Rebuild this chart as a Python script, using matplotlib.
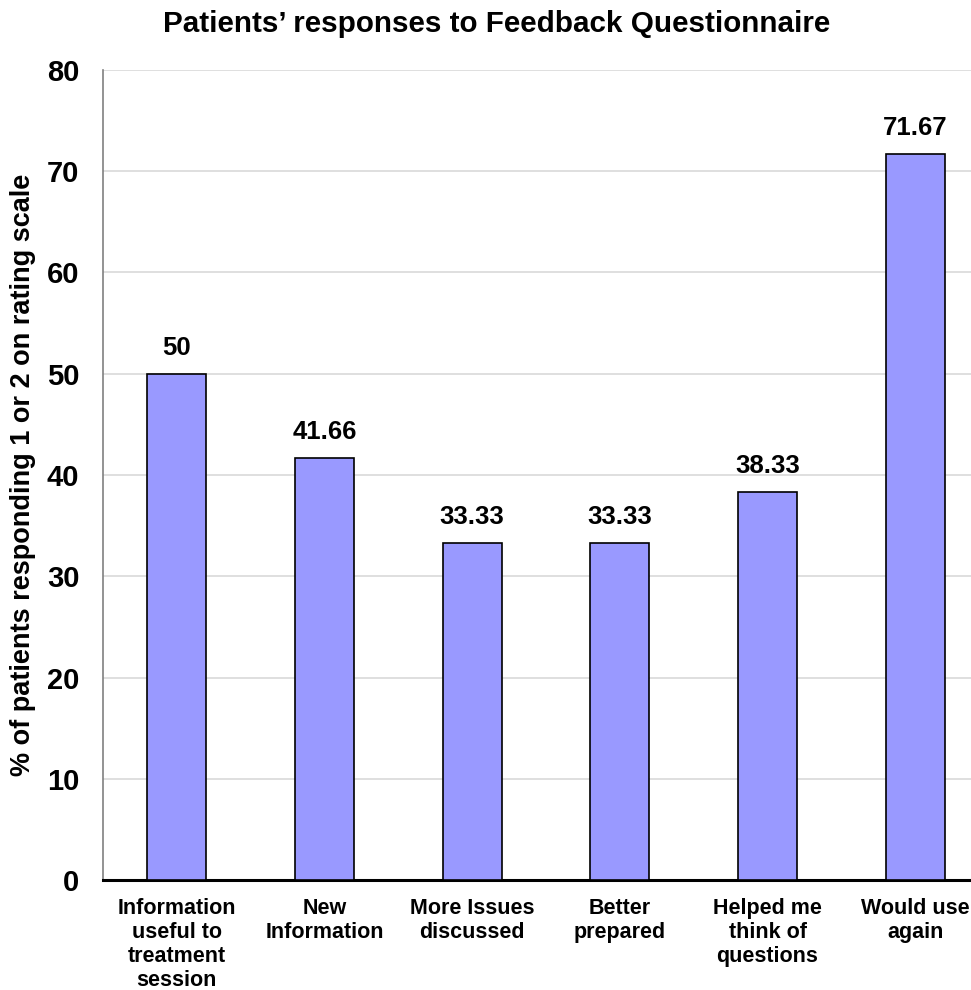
import matplotlib
matplotlib.use("Agg")
import matplotlib.pyplot as plt

# ── Data ──────────────────────────────────────────────────────────────────────
categories = [
    "Information\nuseful to\ntreatment\nsession",
    "New\nInformation",
    "More Issues\ndiscussed",
    "Better\nprepared",
    "Helped me\nthink of\nquestions",
    "Would use\nagain",
]
values = [50, 41.66, 33.33, 33.33, 38.33, 71.67]
value_labels = ["50", "41.66", "33.33", "33.33", "38.33", "71.67"]
yticks = [0, 10, 20, 30, 40, 50, 60, 70, 80]

plt.rcParams["font.family"] = ["Liberation Sans", "DejaVu Sans"]

fig = plt.figure(figsize=(9.71, 9.9), dpi=100)
ax = fig.add_axes([0.1061, 0.1111, 0.9125, 0.8182])

x = list(range(len(categories)))
ax.bar(x, values, width=0.4, color="#9999FF", edgecolor="black", linewidth=1.2, zorder=3)

for xi, v, lab in zip(x, values, value_labels):
    ax.annotate(lab, (xi, v), xytext=(0, 10), textcoords="offset points",
                ha="center", va="bottom", fontsize=18.5, fontweight="bold")

ax.set_xlim(-0.5, len(categories) - 0.5)
ax.set_ylim(0, 80)
ax.set_yticks(yticks)
ax.set_yticklabels([str(t) for t in yticks], fontsize=21, fontweight="bold")
ax.set_xticks(x)
ax.set_xticklabels(categories, fontsize=15.5, fontweight="bold", linespacing=1.18)
ax.tick_params(axis="x", length=0, pad=13)
ax.tick_params(axis="y", length=0, pad=17)

ax.grid(axis="y", color="#d9d9d9", linewidth=1.2, zorder=0)
ax.set_axisbelow(True)
for s in ["top", "right"]:
    ax.spines[s].set_visible(False)
ax.spines["left"].set_color("#808080")
ax.spines["left"].set_linewidth(1.2)
ax.spines["bottom"].set_color("black")
ax.spines["bottom"].set_linewidth(2.2)

ax.set_ylabel("% of patients responding 1 or 2 on rating scale",
              fontsize=19.5, fontweight="bold", labelpad=8)
fig.suptitle("Patients\u2019 responses to Feedback Questionnaire",
             x=0.511, y=0.99, fontsize=21.3, fontweight="bold")

fig.savefig("out.png", dpi=100)
